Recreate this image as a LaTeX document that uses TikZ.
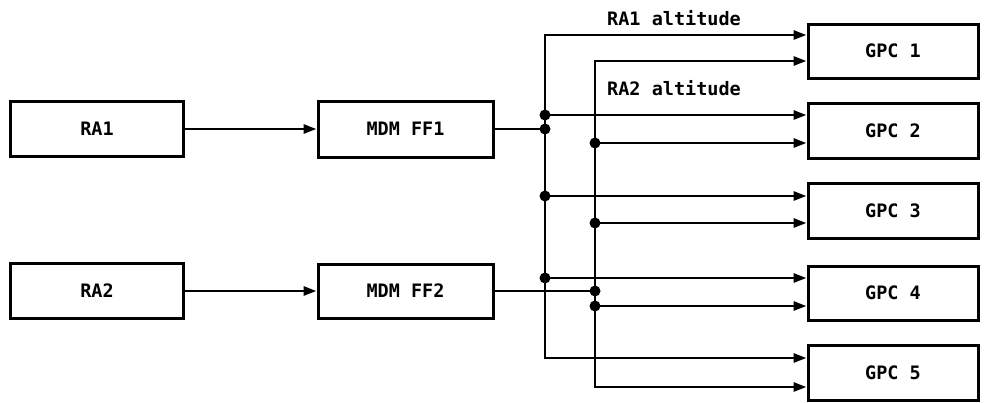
\documentclass[tikz,border=0pt]{standalone}
\usepackage{fontspec}
\setmainfont{DejaVu Sans Mono}
\usetikzlibrary{arrows.meta}
\tikzset{
  box/.style={draw, line width=3pt, inner sep=0pt, font=\bfseries\fontsize{18.5}{20}\selectfont},
  wire/.style={line width=2.8pt},
  arr/.style={wire, -{Triangle[length=13pt,width=9pt]}},
  lbl/.style={inner sep=0pt, anchor=west, font=\bfseries\fontsize{18.5}{20}\selectfont},
  dot/.style={circle, fill, inner sep=0pt, minimum size=11pt}
}
\begin{document}
\begin{tikzpicture}[x=1pt,y=-1pt]
\useasboundingbox (0,0) rectangle (987,402);
% boxes
\node[box, minimum width=173pt, minimum height=55pt] (RA1) at (97,129) {RA1};
\node[box, minimum width=175pt, minimum height=56pt] (MDM1) at (405.5,129) {MDM FF1};
\node[box, minimum width=173pt, minimum height=55pt] (RA2) at (97,291) {RA2};
\node[box, minimum width=175pt, minimum height=54pt] (MDM2) at (405.5,291) {MDM FF2};
\node[box, minimum width=170pt, minimum height=54pt] (GPC1) at (893,51) {GPC 1};
\node[box, minimum width=170pt, minimum height=55pt] (GPC2) at (893,130.5) {GPC 2};
\node[box, minimum width=170pt, minimum height=55pt] (GPC3) at (893,210.5) {GPC 3};
\node[box, minimum width=170pt, minimum height=54pt] (GPC4) at (893,293) {GPC 4};
\node[box, minimum width=170pt, minimum height=55pt] (GPC5) at (893,372.5) {GPC 5};
% labels
\node[lbl] (L1) at (607,18) {RA1 altitude};
\node[lbl] (L2) at (607,88) {RA2 altitude};
% bus coordinates
\coordinate (a1) at (545,35);
\coordinate (a2) at (545,115);
\coordinate (aj) at (545,129);
\coordinate (a3) at (545,196);
\coordinate (a4) at (545,278);
\coordinate (a5) at (545,358);
\coordinate (b1) at (595,61);
\coordinate (b2) at (595,143);
\coordinate (b3) at (595,223);
\coordinate (bj) at (595,291);
\coordinate (b4) at (595,306);
\coordinate (b5) at (595,387);
% inputs
\draw[arr] (RA1) -- (MDM1);
\draw[arr] (RA2) -- (MDM2);
\draw[wire] (MDM1.east) -- (aj);
\draw[wire] (MDM2.east) -- (bj);
% bus 1 (RA1 altitude)
\draw[arr] (a5) -- (a1) -- (a1 -| GPC1.west);
\draw[arr] (a2) -- (a2 -| GPC2.west);
\draw[arr] (a3) -- (a3 -| GPC3.west);
\draw[arr] (a4) -- (a4 -| GPC4.west);
\draw[arr] (a1) -- (a5) -- (a5 -| GPC5.west);
% bus 2 (RA2 altitude)
\draw[arr] (b5) -- (b1) -- (b1 -| GPC1.west);
\draw[arr] (b2) -- (b2 -| GPC2.west);
\draw[arr] (b3) -- (b3 -| GPC3.west);
\draw[arr] (b4) -- (b4 -| GPC4.west);
\draw[arr] (b1) -- (b5) -- (b5 -| GPC5.west);
% junction dots
\foreach \p in {a2,aj,a3,a4,b2,b3,bj,b4} \node[dot] at (\p) {};
\end{tikzpicture}
\end{document}
